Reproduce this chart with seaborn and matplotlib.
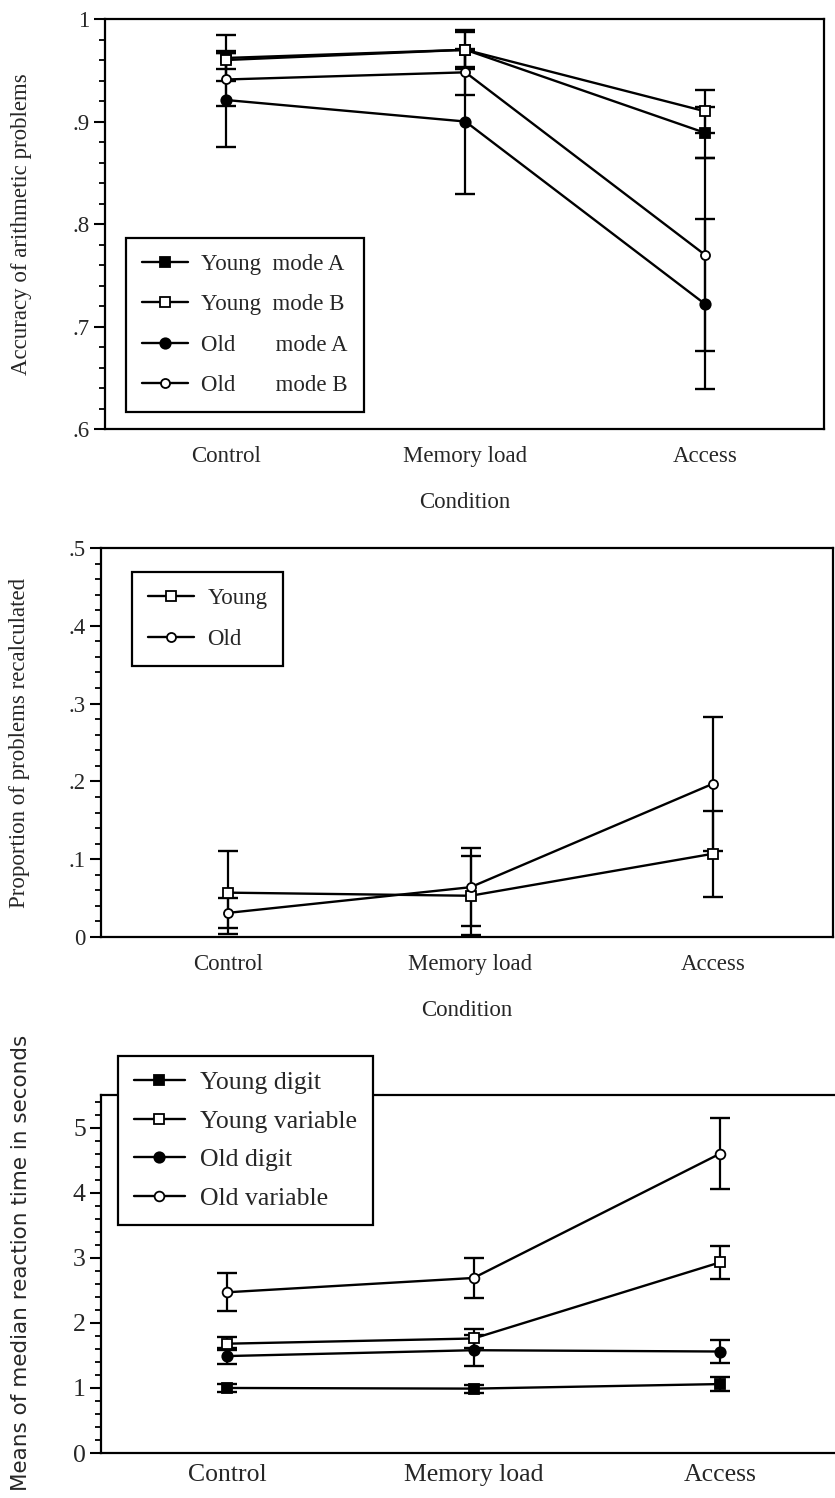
import seaborn as sns
import matplotlib.pyplot as plt
from matplotlib.ticker import MultipleLocator

conditions = ['Control', 'Memory load', 'Access']

# accuracy of arithmetic problems (top panel)
acc_young_a = [0.962, 0.970, 0.889]
acc_young_a_err = [0.022, 0.017, 0.025]
acc_young_b = [0.960, 0.970, 0.910]
acc_young_b_err = [0.009, 0.019, 0.021]
acc_old_a = [0.921, 0.900, 0.722]
acc_old_a_err = [0.046, 0.071, 0.083]
acc_old_b = [0.941, 0.948, 0.770]
acc_old_b_err = [0.026, 0.022, 0.094]
acc_ticks = [0.6, 0.7, 0.8, 0.9, 1.0]
acc_ticklabels = ['.6', '.7', '.8', '.9', '1']

# proportion of problems recalculated (middle panel)
rec_young = [0.057, 0.053, 0.107]
rec_young_err = [0.053, 0.051, 0.055]
rec_old = [0.031, 0.064, 0.197]
rec_old_err = [0.019, 0.050, 0.086]
rec_ticks = [0, 0.1, 0.2, 0.3, 0.4, 0.5]
rec_ticklabels = ['0', '.1', '.2', '.3', '.4', '.5']

# median reaction time in seconds (bottom panel)
rt_young_digit = [1.00, 0.99, 1.06]
rt_young_digit_err = [0.06, 0.06, 0.11]
rt_young_var = [1.68, 1.76, 2.93]
rt_young_var_err = [0.10, 0.15, 0.25]
rt_old_digit = [1.49, 1.58, 1.56]
rt_old_digit_err = [0.12, 0.24, 0.18]
rt_old_var = [2.47, 2.69, 4.60]
rt_old_var_err = [0.29, 0.31, 0.54]
rt_ticks = [0, 1, 2, 3, 4, 5]
rt_ticklabels = ['0', '1', '2', '3', '4', '5']

sns.set_style('ticks')
plt.rcParams['font.family'] = ['Liberation Serif', 'DejaVu Serif']
plt.rcParams['axes.linewidth'] = 1.6


def draw_series(ax, x, y, err, label, marker, filled, ms):
    sns.lineplot(x=x, y=y, ax=ax, color='black', linewidth=1.7,
                 marker=marker, markersize=ms,
                 markerfacecolor='black' if filled else 'white',
                 markeredgecolor='black', markeredgewidth=1.3,
                 label=label, sort=False, zorder=3)
    ax.errorbar(x, y, yerr=err, fmt='none', ecolor='black',
                elinewidth=1.6, capsize=7, capthick=1.7, zorder=2)


def style_axis(ax, ticks, ticklabels, minor, fs):
    ax.set_yticks(ticks)
    ax.set_yticklabels(ticklabels)
    ax.yaxis.set_minor_locator(MultipleLocator(minor))
    ax.tick_params(axis='y', which='major', length=8, width=1.5,
                   labelsize=fs, pad=3, color='black')
    ax.tick_params(axis='y', which='minor', length=4.5, width=1.3, color='black')
    ax.tick_params(axis='x', length=0, labelsize=fs, pad=12)
    for s in ax.spines.values():
        s.set_color('black')


def style_legend(leg):
    fr = leg.get_frame()
    fr.set_edgecolor('black')
    fr.set_linewidth(1.6)
    fr.set_alpha(1)


fig = plt.figure(figsize=(8.35, 14.98), dpi=100)

# top panel
ax1 = fig.add_axes([0.1257, 0.7136, 0.8611, 0.2737])
draw_series(ax1, conditions, acc_young_a, acc_young_a_err, 'Young  mode A', 's', True, 7.5)
draw_series(ax1, conditions, acc_young_b, acc_young_b_err, 'Young  mode B', 's', False, 6.5)
draw_series(ax1, conditions, acc_old_a, acc_old_a_err, 'Old       mode A', 'o', True, 7.5)
draw_series(ax1, conditions, acc_old_b, acc_old_b_err, 'Old       mode B', 'o', False, 6.5)
ax1.set_xlim(-0.505, 2.497)
ax1.set_ylim(0.6, 1.0)
style_axis(ax1, acc_ticks, acc_ticklabels, 0.02, 16.5)
ax1.set_xlabel('Condition', fontsize=16.5, labelpad=18)
ax1.set_ylabel('Accuracy of arithmetic problems', fontsize=16.5)
ax1.yaxis.set_label_coords(-0.102, 0.5)
leg1 = ax1.legend(loc='lower left', bbox_to_anchor=(0.029, 0.041), borderaxespad=0,
                  fancybox=False, fontsize=16.5, handlelength=2.0, labelspacing=0.85,
                  borderpad=0.7, handletextpad=0.6)
style_legend(leg1)

# middle panel
ax2 = fig.add_axes([0.121, 0.3745, 0.8766, 0.2597])
draw_series(ax2, conditions, rec_young, rec_young_err, 'Young', 's', False, 6.5)
draw_series(ax2, conditions, rec_old, rec_old_err, 'Old', 'o', False, 6.5)
ax2.set_xlim(-0.524, 2.495)
ax2.set_ylim(0, 0.5)
style_axis(ax2, rec_ticks, rec_ticklabels, 0.02, 16.5)
ax2.set_xlabel('Condition', fontsize=16.5, labelpad=18)
ax2.set_ylabel('Proportion of problems recalculated', fontsize=16.5)
ax2.yaxis.set_label_coords(-0.097, 0.5)
leg2 = ax2.legend(loc='upper left', bbox_to_anchor=(0.042, 0.938), borderaxespad=0,
                  fancybox=False, fontsize=16.5, handlelength=2.0, labelspacing=0.85,
                  borderpad=0.7, handletextpad=0.6)
style_legend(leg2)

# bottom panel
ax3 = fig.add_axes([0.121, 0.0300, 0.897, 0.239])
draw_series(ax3, conditions, rt_young_digit, rt_young_digit_err, 'Young digit', 's', True, 7.5)
draw_series(ax3, conditions, rt_young_var, rt_young_var_err, 'Young variable', 's', False, 7)
draw_series(ax3, conditions, rt_old_digit, rt_old_digit_err, 'Old digit', 'o', True, 7.5)
draw_series(ax3, conditions, rt_old_var, rt_old_var_err, 'Old variable', 'o', False, 7)
ax3.set_xlim(-0.511, 2.527)
ax3.set_ylim(0, 5.5)
style_axis(ax3, rt_ticks, rt_ticklabels, 0.2, 18.5)
ax3.tick_params(axis='x', pad=8)
ax3.spines['right'].set_visible(False)
ax3.set_xlabel('')
ax3.set_ylabel('Means of median reaction time in seconds', fontsize=15.5,
               family=['DejaVu Sans'])
ax3.yaxis.set_label_coords(-0.093, 0.53)
leg3 = ax3.legend(loc='upper left', bbox_to_anchor=(0.023, 1.109), borderaxespad=0,
                  fancybox=False, fontsize=18.5, handlelength=2.0, labelspacing=0.6,
                  borderpad=0.6, handletextpad=0.6)
style_legend(leg3)

plt.savefig('out.png', dpi=100)
